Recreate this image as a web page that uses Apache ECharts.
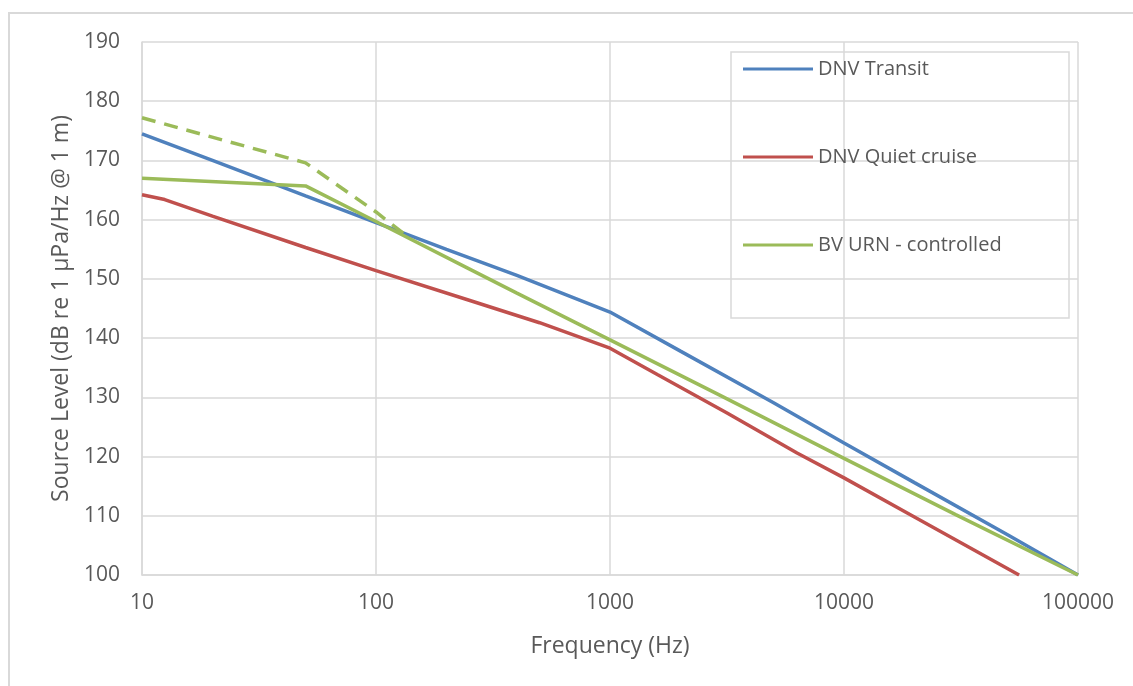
<!DOCTYPE html>
<html>
<head>
    <meta charset="utf-8" />
    <title></title>
    <style>
        html, body {
            margin: 0;
            padding: 0;
            background: #fff;
        }

        #chart {
            width: 1133px;
            height: 686px;
        }
    </style>
    <script src="https://cdn.jsdelivr.net/npm/echarts@6/dist/echarts.min.js"></script>
</head>
<body>
    <div id="chart"></div>
    <script>
        // frequencies (Hz) and source levels
        var freqTransit = [10, 20, 50, 100, 200, 400, 1000, 2000, 5000, 10000, 20000, 50000, 100000];
        var transit = [174.5, 170.0, 164.0, 159.5, 155.0, 150.6, 144.4, 137.8, 129.1, 122.3, 115.6, 106.8, 100.0];

        var freqQuiet = [10, 12.5, 20, 50, 100, 250, 500, 1000, 1600, 3150, 6300, 10000, 20000, 56000];
        var quiet = [164.2, 163.4, 160.6, 155.3, 151.4, 146.4, 142.6, 138.3, 133.8, 127.4, 120.6, 116.4, 109.8, 100.0];

        var freqBV = [10, 50, 100, 250, 400, 1000, 3000, 10000, 30000, 100000];
        var bv = [167.0, 165.7, 159.7, 151.7, 147.6, 139.7, 130.2, 119.7, 110.2, 100.0];

        var freqBVUpper = [10, 50, 100, 140];
        var bvUpper = [177.2, 169.6, 161.3, 156.8];

        var yTicks = [100, 110, 120, 130, 140, 150, 160, 170, 180, 190];

        function pairs(xs, ys) {
            var out = [];
            for (var i = 0; i < xs.length; i++) {
                out.push([xs[i], ys[i]]);
            }
            return out;
        }

        var font = "'Open Sans', sans-serif";
        var grey = '#595959';
        var gridGrey = '#d9d9d9';

        var myChart = echarts.init(document.getElementById('chart'));
        var option = {
            animation: false,
            textStyle: { fontFamily: font },
            grid: {
                left: 142,
                right: 55,
                top: 42,
                bottom: 111
            },
            legend: {
                orient: 'vertical',
                left: 738,
                top: 53,
                itemGap: 66,
                itemWidth: 70,
                itemHeight: 3,
                icon: 'rect',
                textStyle: {
                    color: grey,
                    fontSize: 20,
                    fontFamily: font,
                    lineHeight: 22
                },
                data: ['DNV Transit', 'DNV Quiet cruise', 'BV URN - controlled']
            },
            graphic: [
                {
                    type: 'rect',
                    shape: { x: 9, y: 13, width: 1200, height: 800 },
                    style: { fill: 'none', stroke: gridGrey, lineWidth: 2 },
                    silent: true
                },
                {
                    type: 'rect',
                    shape: { x: 731, y: 52, width: 338, height: 266 },
                    style: { fill: 'none', stroke: gridGrey, lineWidth: 1.5 },
                    silent: true
                }
            ],
            xAxis: {
                type: 'log',
                logBase: 10,
                min: 10,
                max: 100000,
                name: 'Frequency (Hz)',
                nameLocation: 'middle',
                nameGap: 60,
                nameTextStyle: { color: grey, fontSize: 23 },
                axisLine: { lineStyle: { color: gridGrey, width: 1.5 } },
                axisTick: { show: false },
                axisLabel: {
                    color: grey,
                    fontSize: 21,
                    margin: 18,
                    formatter: function (v) { return String(v); }
                },
                splitLine: { show: true, lineStyle: { color: gridGrey, width: 1.5 } },
                minorTick: { show: false },
                minorSplitLine: { show: false }
            },
            yAxis: {
                type: 'value',
                min: yTicks[0],
                max: yTicks[yTicks.length - 1],
                interval: 10,
                name: 'Source Level (dB re 1 \u00b5Pa/Hz @ 1 m)',
                nameLocation: 'middle',
                nameGap: 69,
                nameTextStyle: { color: grey, fontSize: 23 },
                axisLine: { show: true, lineStyle: { color: gridGrey, width: 1.5 } },
                axisTick: { show: false },
                axisLabel: { color: grey, fontSize: 21, margin: 22 },
                splitLine: { show: true, lineStyle: { color: gridGrey, width: 1.5 } }
            },
            series: [
                {
                    name: 'DNV Transit',
                    type: 'line',
                    symbol: 'none',
                    color: '#4f81bd',
                    lineStyle: { width: 3.5 },
                    data: pairs(freqTransit, transit)
                },
                {
                    name: 'DNV Quiet cruise',
                    type: 'line',
                    symbol: 'none',
                    color: '#c0504d',
                    lineStyle: { width: 3.5 },
                    data: pairs(freqQuiet, quiet)
                },
                {
                    name: 'BV URN - controlled',
                    type: 'line',
                    symbol: 'none',
                    color: '#9bbb59',
                    lineStyle: { width: 3.5 },
                    data: pairs(freqBV, bv)
                },
                {
                    name: 'BV URN - upper',
                    type: 'line',
                    symbol: 'none',
                    color: '#9bbb59',
                    lineStyle: { width: 3.5, type: [14, 9] },
                    data: pairs(freqBVUpper, bvUpper)
                }
            ]
        };
        myChart.setOption(option);
    </script>
</body>
</html>
